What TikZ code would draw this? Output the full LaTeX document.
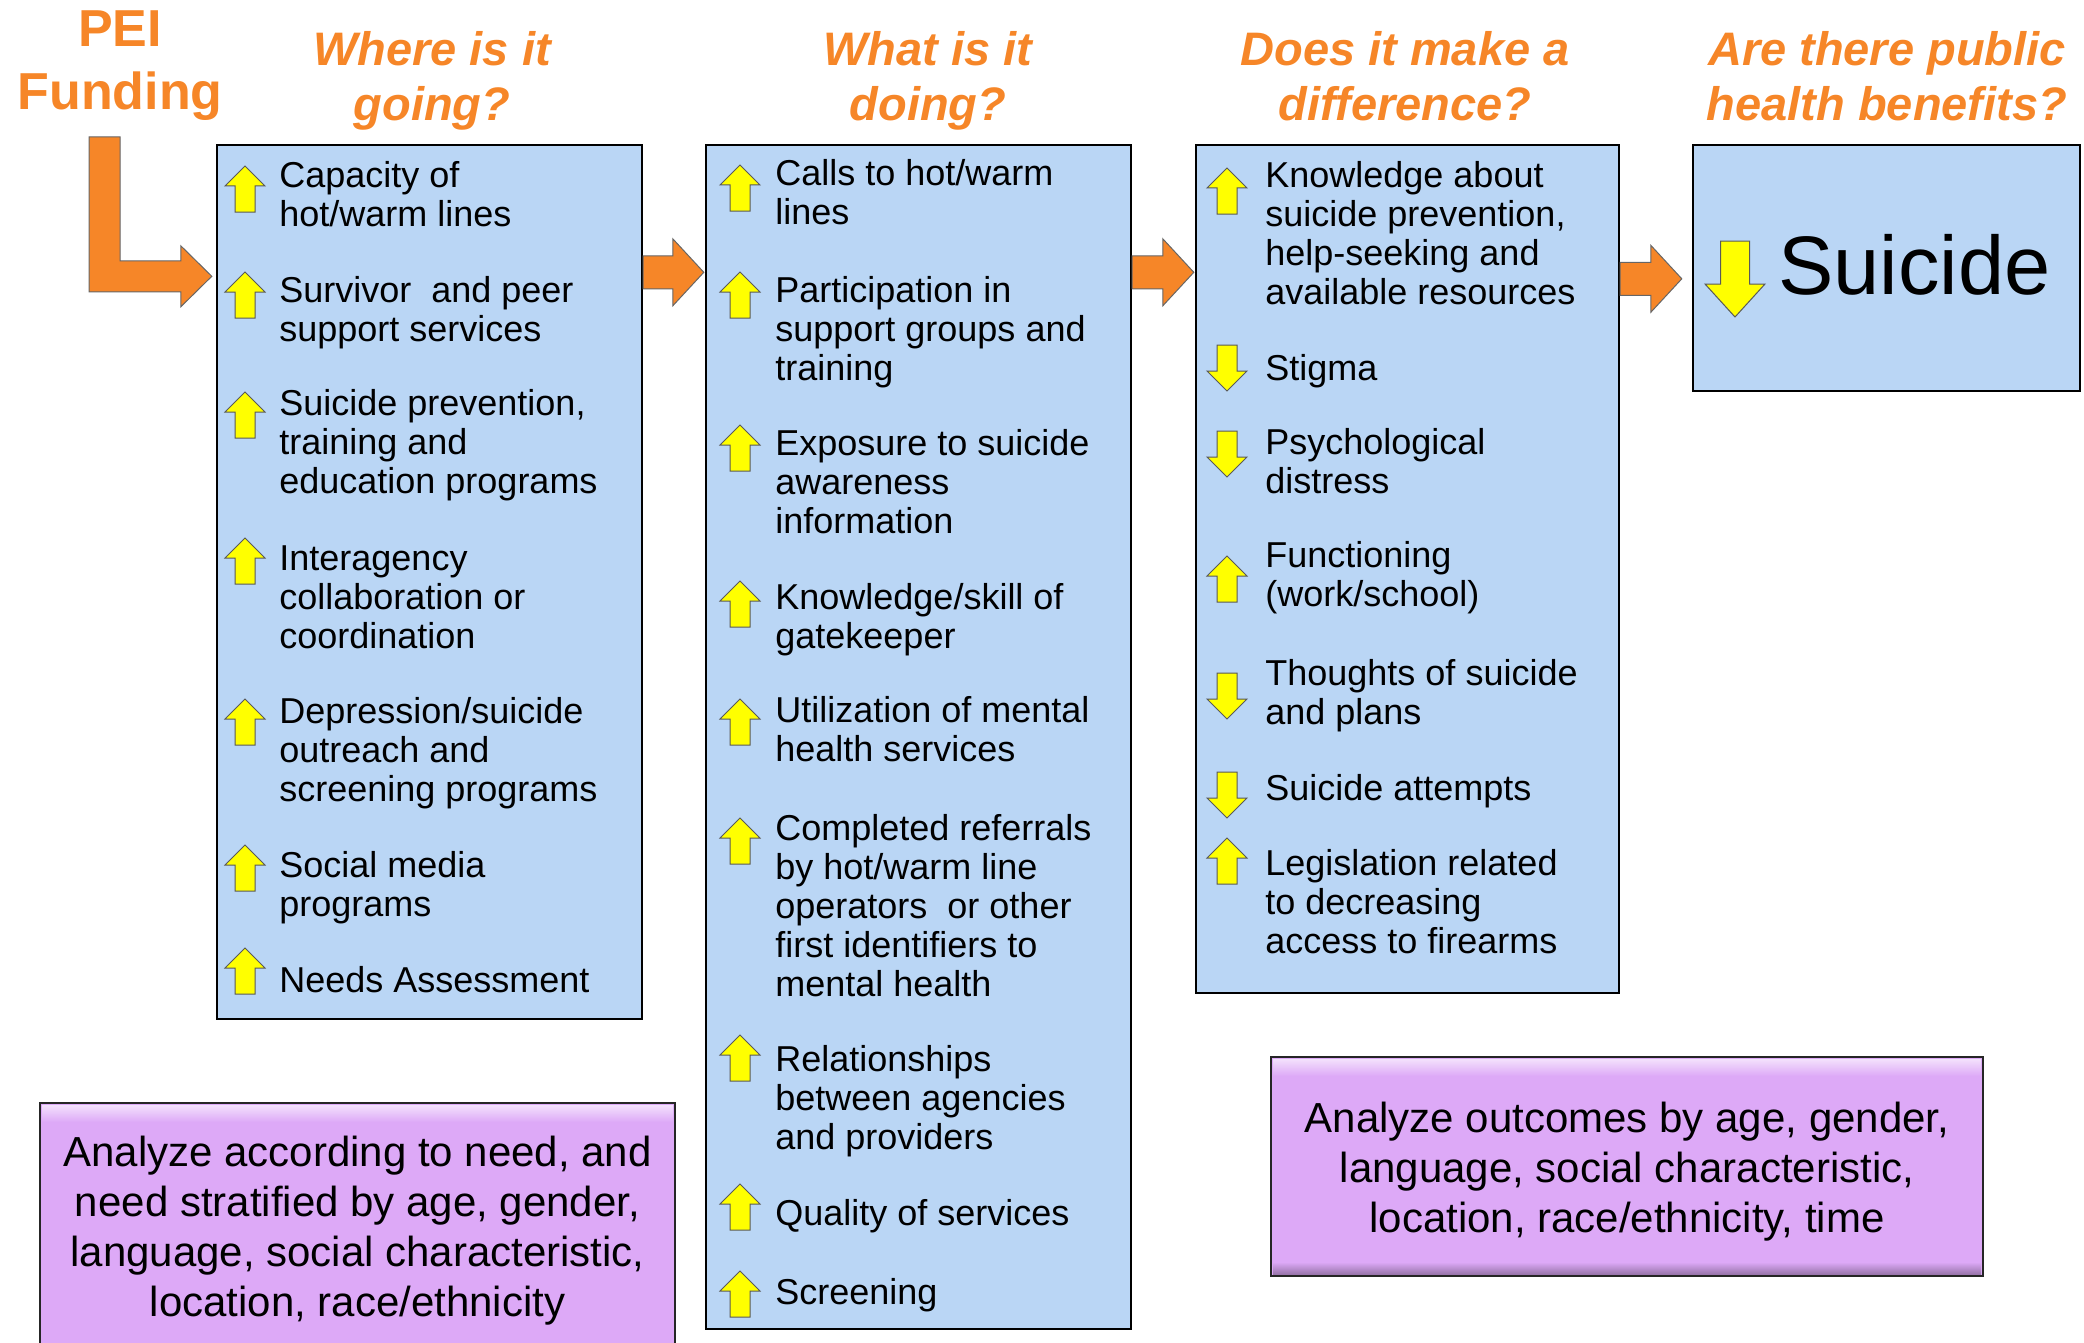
\documentclass[tikz,border=0pt]{standalone}
\usepackage{fontspec}
\setmainfont{Liberation Sans}
\usetikzlibrary{calc}
\definecolor{orng}{RGB}{246,134,40}
\definecolor{boxblue}{RGB}{186,214,245}
\definecolor{purp}{RGB}{221,169,247}
\definecolor{ylw}{RGB}{255,255,0}
\newcommand\llines[1]{\vtop{\let\\\cr\halign{##\hfil\cr#1\crcr}}}
\newcommand\clines[1]{\vtop{\let\\\cr\halign{\hfil##\hfil\cr#1\crcr}}}
\tikzset{
 bluebox/.style={draw=black, line width=1.2pt, fill=boxblue, inner sep=0pt},
 purplebox/.style={draw=black!85, line width=1pt, fill=purp, inner sep=0pt},
 ptext/.style={align=center, font=\fontsize{21}{25}\selectfont, inner sep=0pt},
 itemtext/.style={font=\fontsize{18}{19.6}\selectfont, anchor=base west, inner sep=0pt},
 header/.style={font=\bfseries\itshape\fontsize{23.5}{27.5}\selectfont, text=orng, anchor=base, inner sep=0pt},
 orangearr/.style={fill=orng, draw=black!60, line width=0.5pt},
 yarr/.style={fill=ylw, draw=black!65, line width=0.5pt},
 uparr/.pic={\path[yarr] (0,0) -- (20,20) -- (10,20) -- (10,46) -- (-10,46) -- (-10,20) -- (-20,20) -- cycle;},
 dnarr/.pic={\path[yarr] (-10,0) -- (10,0) -- (10,26) -- (20,26) -- (0,46) -- (-20,26) -- (-10,26) -- cycle;},
}
\newcommand\blockarr[2]{%
 \draw[orangearr] let \p1=(#1), \p2=(#2) in
   (\x1,\y1+8.25pt) -- (\x2-15.5pt,\y1+8.25pt) -- (\x2-15.5pt,\y1+16.75pt) -- (\x2,\y1)
   -- (\x2-15.5pt,\y1-16.75pt) -- (\x2-15.5pt,\y1-8.25pt) -- (\x1,\y1-8.25pt) -- cycle;}
\begin{document}
\begin{tikzpicture}[x=0.5pt,y=-0.5pt]
\useasboundingbox (0,0) rectangle (2084,1343);
\path[clip] (0,0) rectangle (2084,1343);

% headers
\node[font=\bfseries\fontsize{26}{31.5}\selectfont, text=orng, anchor=base, inner sep=0pt] (pei) at (120,47) {\clines{PEI\\Funding}};
\node[header] (h1) at (432,66) {\clines{Where is it\\going?}};
\node[header] (h2) at (928,66) {\clines{What is it\\doing?}};
\node[header] (h3) at (1405,66) {\clines{Does it make a\\difference?}};
\node[header] (h4) at (1887,66) {\clines{Are there public\\health benefits?}};

% boxes
\node[bluebox, minimum width=212.5pt, minimum height=437pt] (b1) at (429.5,582) {};
\node[bluebox, minimum width=212.5pt, minimum height=592pt] (b2) at (918.5,737) {};
\node[bluebox, minimum width=211.5pt, minimum height=424pt] (b3) at (1407.5,569) {};
\node[bluebox, minimum width=193.5pt, minimum height=123pt] (b4) at (1886.5,268) {};

% orange arrows
\coordinate (fstart) at (104.5,137);
\coordinate (ftip) at ($(b1.north west)+(-4,132.5)$);
\draw[orangearr] let \p1=(fstart), \p2=(ftip) in
  (\x1-7.75pt,\y1) -- (\x1+7.75pt,\y1) -- (\x1+7.75pt,\y2+7.75pt) -- (\x2-15.5pt,\y2+7.75pt)
  -- (\x2-15.5pt,\y2+15.25pt) -- (\x2,\y2) -- (\x2-15.5pt,\y2-15.25pt) -- (\x2-15.5pt,\y2-7.75pt)
  -- (\x1-7.75pt,\y2-7.75pt) -- cycle;
\coordinate (a1s) at ($(b1.north east)+(0,128.5)$);
\coordinate (a1t) at ($(b2.north west)+(-1,128.5)$);
\blockarr{a1s}{a1t}
\coordinate (a2s) at ($(b2.north east)+(0,128.5)$);
\coordinate (a2t) at ($(b3.north west)+(-1,128.5)$);
\blockarr{a2s}{a2t}
\coordinate (a3s) at ($(b3.north east)+(0,135)$);
\coordinate (a3t) at ($(b4.north west)+(-10,135)$);
\blockarr{a3s}{a3t}

% box 1 items
\path (245,166) pic {uparr} (245,272) pic {uparr} (245,392) pic {uparr} (245,538) pic {uparr}
      (245,699) pic {uparr} (245,845) pic {uparr} (245,948) pic {uparr};
\node[itemtext] (i11) at (279,187) {\llines{Capacity of\\hot/warm lines}};
\node[itemtext] (i12) at (279,302) {\llines{Survivor\ \ and peer\\support services}};
\node[itemtext] (i13) at (279,415) {\llines{Suicide prevention,\\training and\\education programs}};
\node[itemtext] (i14) at (279,570) {\llines{Interagency\\collaboration or\\coordination}};
\node[itemtext] (i15) at (279,723) {\llines{Depression/suicide\\outreach and\\screening programs}};
\node[itemtext] (i16) at (279,877) {\llines{Social media\\programs}};
\node[itemtext] (i17) at (279,992) {Needs Assessment};

% box 2 items
\path (740,165) pic {uparr} (740,272) pic {uparr} (740,425) pic {uparr} (740,581) pic {uparr}
      (740,699) pic {uparr} (740,818) pic {uparr} (740,1035) pic {uparr} (740,1184) pic {uparr}
      (740,1271) pic {uparr};
\node[itemtext] (i21) at (775,185) {\llines{Calls to hot/warm\\lines}};
\node[itemtext] (i22) at (775,302) {\llines{Participation in\\support groups and\\training}};
\node[itemtext] (i23) at (775,455) {\llines{Exposure to suicide\\awareness\\information}};
\node[itemtext] (i24) at (775,609) {\llines{Knowledge/skill of\\gatekeeper}};
\node[itemtext] (i25) at (775,722) {\llines{Utilization of mental\\health services}};
\node[itemtext] (i26) at (775,840) {\llines{Completed referrals\\by hot/warm line\\operators\ \ or other\\first identifiers to\\mental health}};
\node[itemtext] (i27) at (775,1071) {\llines{Relationships\\between agencies\\and providers}};
\node[itemtext] (i28) at (775,1225) {Quality of services};
\node[itemtext] (i29) at (775,1304) {Screening};

% box 3 items
\path (1227,168) pic {uparr} (1227,345) pic {dnarr} (1227,431) pic {dnarr} (1227,556) pic {uparr}
      (1227,673) pic {dnarr} (1227,772) pic {dnarr} (1227,838) pic {uparr};
\node[itemtext] (i31) at (1265,187) {\llines{Knowledge about\\suicide prevention,\\help-seeking and\\available resources}};
\node[itemtext] (i32) at (1265,380) {Stigma};
\node[itemtext] (i33) at (1265,454) {\llines{Psychological\\distress}};
\node[itemtext] (i34) at (1265,567) {\llines{Functioning\\(work/school)}};
\node[itemtext] (i35) at (1265,685) {\llines{Thoughts of suicide\\and plans}};
\node[itemtext] (i36) at (1265,800) {Suicide attempts};
\node[itemtext] (i37) at (1265,875) {\llines{Legislation related\\to decreasing\\access to firearms}};

% box 4
\path[yarr] (1720.5,241) -- (1749.5,241) -- (1749.5,284) -- (1765,284) -- (1735,317) -- (1705,284) -- (1720.5,284) -- cycle;
\node[font=\fontsize{41.5}{48}\selectfont, anchor=base west, inner sep=0pt] (sui) at (1778,294) {Suicide};

% purple boxes
\node[purplebox, minimum width=317.5pt, minimum height=123.5pt] (p1) at (357.5,1226.5) {};
\fill[top color=purp!35!white, bottom color=purp] (42,1105) rectangle (673,1122);
\node[ptext] (p1t) at ($(p1.center)+(0,4)$)
  {Analyze according to need, and\\need stratified by age, gender,\\language, social characteristic,\\location, race/ethnicity};
\node[purplebox, minimum width=356pt, minimum height=109.5pt] (p2) at (1627,1166.5) {};
\fill[top color=purp!35!white, bottom color=purp] (1273,1059) rectangle (1981,1076);
\fill[top color=purp, bottom color=purp!70!black] (1273,1262) rectangle (1981,1274);
\node[ptext] (p2t) at ($(p2.center)+(0,5)$)
  {Analyze outcomes by age, gender,\\language, social characteristic,\\location, race/ethnicity, time};
\end{tikzpicture}
\end{document}
